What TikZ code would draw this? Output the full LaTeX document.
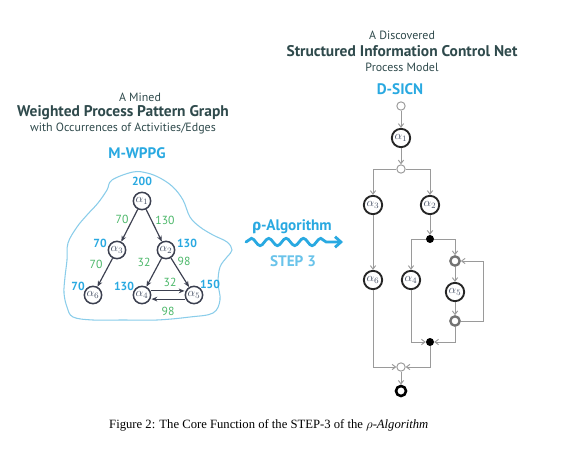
\documentclass[tikz,border=0pt]{standalone}
\usepackage{fontspec}
\setmainfont{Liberation Serif}
\newfontfamily\ptsans{PT Sans}
\newfontfamily\grksans{Fira Sans}
\usetikzlibrary{arrows.meta,decorations.pathmorphing}
\definecolor{titlegray}{HTML}{2F4A4C}
\definecolor{skyblue}{HTML}{29A9E1}
\definecolor{leafgreen}{HTML}{4CB86A}
\definecolor{blobblue}{HTML}{8ACDEA}
\definecolor{netgray}{HTML}{9A9A9A}
\definecolor{edgegray}{HTML}{3C4050}
\definecolor{alphagray}{HTML}{4A5468}
\begin{document}
\begin{tikzpicture}[x=0.03cm, y=-0.03cm,
  lighttext/.style={font=\ptsans\fontsize{10.2}{11}\selectfont, text=titlegray, inner sep=0pt},
  boldtext/.style={font=\ptsans\bfseries\fontsize{13.2}{14}\selectfont, text=titlegray, inner sep=0pt},
  bluetext/.style={font=\ptsans\bfseries\fontsize{13}{13}\selectfont, text=skyblue, inner sep=0pt},
  occ/.style={font=\ptsans\bfseries\fontsize{10}{10}\selectfont, text=skyblue, inner sep=0pt},
  wgt/.style={font=\ptsans\fontsize{10}{10}\selectfont, text=leafgreen, inner sep=0pt},
  gact/.style={circle, draw=edgegray, line width=1.3pt, minimum size=0.52cm, inner sep=0pt, text=alphagray, font=\fontsize{10}{10}\selectfont},
  nact/.style={circle, draw=black!85, line width=1.6pt, minimum size=0.55cm, inner sep=0pt, text=alphagray, font=\fontsize{10}{10}\selectfont},
  gedge/.style={draw=edgegray, line width=1pt, -{Stealth[length=5pt,width=4pt]}},
  nedge/.style={draw=netgray, line width=0.8pt, -{Straight Barb[length=3pt,width=4.5pt]}},
  orplace/.style={circle, draw=netgray, fill=white, line width=0.8pt, minimum size=0.25cm, inner sep=0pt},
  andplace/.style={circle, fill=black, minimum size=0.24cm, inner sep=0pt},
  loopplace/.style={circle, draw=black!55, fill=white, line width=2pt, minimum size=0.28cm, inner sep=0pt},
  endplace/.style={circle, draw=black, fill=white, line width=2.2pt, minimum size=0.3cm, inner sep=0pt},
  wave/.style={draw=skyblue, line width=2.4pt, line cap=round,
    decorate, decoration={snake, amplitude=0.11cm, segment length=0.52cm, post length=0.25cm},
    -{Straight Barb[length=5pt,width=9pt]}}]
  \useasboundingbox[fill=white] (0,0) rectangle (584,451);

  % left titles
  \node[lighttext] (ltop) at (140,97) {A Mined};
  \node[boldtext] (lmid) at (123,113) {Weighted Process Pattern Graph};
  \node[lighttext] (lbot) at (123,129) {with Occurrences of Activities/Edges};
  \node[bluetext] (lname) at (137,153) {M-WPPG};

  % blob
  \draw[blobblue, line width=0.9pt] plot[smooth cycle, tension=0.6] coordinates {
    (133,172) (147,173) (160,178) (173,187) (183,200) (190,217) (200,227)
    (213,235) (227,242) (232,250) (227,257) (220,267) (218,283) (220,300)
    (213,313) (190,317) (157,320) (123,320) (93,320) (73,317) (67,307)
    (64,293) (65,277) (67,260) (68,243) (77,227) (87,215) (98,203)
    (107,190) (112,180)};

  % mined graph
  \node[gact] (g1) at (142,201) {$\alpha_1$};
  \node[gact] (g3) at (117,250) {$\alpha_3$};
  \node[gact] (g2) at (166,250) {$\alpha_2$};
  \node[gact] (g6) at (93,295) {$\alpha_6$};
  \node[gact] (g4) at (142,295) {$\alpha_4$};
  \node[gact] (g5) at (194,295) {$\alpha_5$};
  \draw[gedge] (g1) -- (g3);
  \draw[gedge] (g1) -- (g2);
  \draw[gedge] (g3) -- (g6);
  \draw[gedge] (g2) -- (g4);
  \draw[gedge] (g2) -- (g5);
  \draw[gedge] ([yshift=-3.5]g5.west) -- ([yshift=-3.5]g4.east);
  \draw[gedge] ([yshift=3.5]g4.east) -- ([yshift=3.5]g5.west);
  \node[occ] (o1) at (142,181) {200};
  \node[occ] (o3) at (100,243) {70};
  \node[occ] (o2) at (187,243) {130};
  \node[occ] (o6) at (78,286) {70};
  \node[occ] (o4) at (124,286) {130};
  \node[occ] (o5) at (210,284) {150};
  \node[wgt] (w13) at (122,219) {70};
  \node[wgt] (w12) at (165,220) {130};
  \node[wgt] (w36) at (96,264) {70};
  \node[wgt] (w24) at (144,262) {32};
  \node[wgt] (w25) at (184,261) {98};
  \node[wgt] (w54) at (170,282) {32};
  \node[wgt] (w45) at (168,311) {98};

  % rho algorithm arrow
  \node[bluetext] (algo) at (292,227) {{\grksans ρ}-Algorithm};
  \coordinate (wstart) at (246,242);
  \coordinate (wend) at (343,242);
  \draw[wave] (wstart) -- (wend);
  \node[bluetext, text=skyblue!70] (step) at (293,261) {STEP 3};

  % right titles
  \node[lighttext] (rtop) at (402,35) {A Discovered};
  \node[boldtext] (rmid) at (402,51) {Structured Information Control Net};
  \node[lighttext] (rbot) at (402,67) {Process Model};
  \node[bluetext] (rname) at (400,89) {D-SICN};

  % discovered net
  \node[orplace] (start) at (401,106) {};
  \node[nact] (a1) at (401,138) {$\alpha_1$};
  \node[orplace] (or1) at (401,169) {};
  \node[nact] (a3) at (373,205) {$\alpha_3$};
  \node[nact] (a2) at (430,205) {$\alpha_2$};
  \node[andplace] (and1) at (430,239) {};
  \node[nact] (a6) at (373,280) {$\alpha_6$};
  \node[nact] (a4) at (411,280) {$\alpha_4$};
  \node[loopplace] (lp1) at (455,261) {};
  \node[nact] (a5) at (455,292) {$\alpha_5$};
  \node[loopplace] (lp2) at (455,321) {};
  \node[andplace] (and2) at (430,342) {};
  \node[orplace] (or2) at (401,367) {};
  \node[endplace] (stop) at (401,391) {};
  \draw[nedge] (start) -- (a1);
  \draw[nedge] (a1) -- (or1);
  \draw[nedge] (or1) -| (a3);
  \draw[nedge] (or1) -| (a2);
  \draw[nedge] (a2) -- (and1);
  \draw[nedge] (and1) -| (a4);
  \draw[nedge] (and1) -| (lp1);
  \draw[nedge] (lp1) -- (a5);
  \draw[nedge] (a5) -- (lp2);
  \draw[nedge] (lp2) -- ++(28,0) |- (lp1);
  \draw[nedge] (a3) -- (a6);
  \draw[nedge] (a4) |- (and2);
  \draw[nedge] (lp2) |- (and2);
  \draw[nedge] (a6) |- (or2);
  \draw[nedge] (and2) |- (or2);
  \draw[nedge] (or2) -- (stop);

  % caption
  \node[font=\fontsize{10.8}{12}\selectfont, inner sep=0pt, anchor=west] (caption) at (109,425)
    {Figure 2: The Core Function of the STEP-3 of the $\rho$-\textit{Algorithm}};
\end{tikzpicture}
\end{document}
